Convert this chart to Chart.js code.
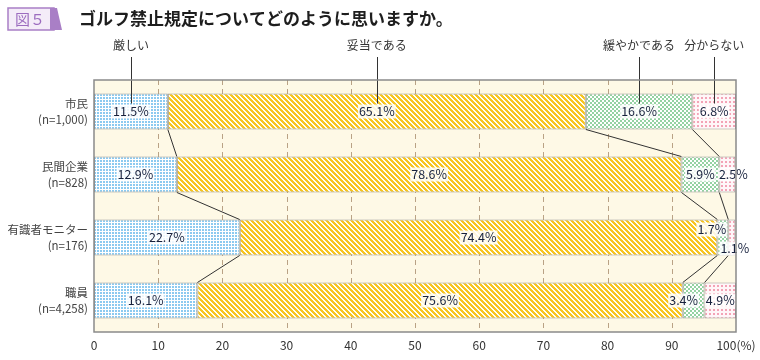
<!DOCTYPE html>
<html>
<head>
<meta charset="utf-8">
<script src="https://cdn.jsdelivr.net/npm/chart.js@4"></script>
<style>
  html, body { margin: 0; padding: 0; background: #fff; }
  #wrap { width: 760px; height: 360px; position: relative; }
</style>
</head>
<body>
<div id="wrap"><canvas id="golfChart"></canvas></div>
<script>
const categories = [
  ['市民', '(n=1,000)'],
  ['民間企業', '(n=828)'],
  ['有識者モニター', '(n=176)'],
  ['職員', '(n=4,258)']
];
const seriesNames = ['厳しい', '妥当である', '緩やかである', '分からない'];
const strict = [11.5, 12.9, 22.7, 16.1];
const adequate = [65.1, 78.6, 74.4, 75.6];
const lenient = [16.6, 5.9, 1.7, 3.4];
const unknown = [6.8, 2.5, 1.1, 4.9];
const xTicks = [0, 10, 20, 30, 40, 50, 60, 70, 80, 90, 100];

const FONT = '"Noto Sans CJK JP", "Noto Sans", sans-serif';

// label nudges where the segment is too narrow: "row-dataset": [dx, dy]
const labelShift = {
  '1-3': [6, 0],
  '2-2': [-11, -8],
  '2-3': [3, 11],
  '3-2': [-10, 0]
};

function makePattern(kind) {
  const c = document.createElement('canvas');
  const g = c.getContext('2d');
  if (kind === 'blue') {
    c.width = 3; c.height = 3;
    g.fillStyle = '#ffffff'; g.fillRect(0, 0, 3, 3);
    g.fillStyle = '#8ccaf0'; g.fillRect(1, 1, 2, 2);
  } else if (kind === 'yellow') {
    c.width = 5; c.height = 5;
    g.fillStyle = '#fffdf4'; g.fillRect(0, 0, 5, 5);
    g.fillStyle = '#f7c520';
    for (let i = 0; i < 5; i++) {
      g.fillRect(i, i, 1, 1);
      g.fillRect((i + 1) % 5, i, 1, 1);
      g.fillRect((i + 2) % 5, i, 1, 1);
    }
  } else if (kind === 'green') {
    c.width = 4; c.height = 4;
    g.fillStyle = '#ffffff'; g.fillRect(0, 0, 4, 4);
    g.fillStyle = '#94d2a2';
    g.fillRect(0, 0, 2, 2); g.fillRect(2, 2, 2, 2);
  } else {
    c.width = 4; c.height = 4;
    g.fillStyle = '#fff6f8'; g.fillRect(0, 0, 4, 4);
    g.fillStyle = '#f3a3b6';
    g.fillRect(1, 1, 2, 2);
  }
  return document.getElementById('golfChart').getContext('2d').createPattern(c, 'repeat');
}

const seriesData = [strict, adequate, lenient, unknown];
const fills = [makePattern('blue'), makePattern('yellow'), makePattern('green'), makePattern('pink')];

const chartDecor = {
  id: 'chartDecor',
  beforeDatasetsDraw(chart) {
    const { ctx, chartArea: a } = chart;
    ctx.save();
    ctx.fillStyle = '#fef9e6';
    ctx.fillRect(a.left, a.top, a.right - a.left, a.bottom - a.top);
    const x = chart.scales.x;
    ctx.strokeStyle = '#b9a285';
    ctx.lineWidth = 1;
    ctx.setLineDash([5, 4]);
    xTicks.forEach(v => {
      if (v === 0 || v === 100) return;
      const px = Math.round(x.getPixelForValue(v)) + 0.5;
      ctx.beginPath(); ctx.moveTo(px, a.top); ctx.lineTo(px, a.bottom); ctx.stroke();
    });
    ctx.restore();
  },
  afterDatasetsDraw(chart) {
    const { ctx, chartArea: a } = chart;
    const x = chart.scales.x;
    ctx.save();

    // connectors between rows
    ctx.strokeStyle = '#333';
    ctx.lineWidth = 1;
    for (let r = 0; r < categories.length - 1; r++) {
      const barA = chart.getDatasetMeta(0).data[r];
      const barB = chart.getDatasetMeta(0).data[r + 1];
      const yA = barA.y + barA.height / 2;
      const yB = barB.y - barB.height / 2;
      let cumA = 0, cumB = 0;
      for (let s = 0; s < seriesData.length - 1; s++) {
        cumA += seriesData[s][r];
        cumB += seriesData[s][r + 1];
        ctx.beginPath();
        ctx.moveTo(x.getPixelForValue(cumA), yA);
        ctx.lineTo(x.getPixelForValue(cumB), yB);
        ctx.stroke();
      }
    }

    // legend callouts above first row
    ctx.font = '12px ' + FONT;
    ctx.textAlign = 'center';
    ctx.textBaseline = 'middle';
    let cum = 0;
    const top = chart.getDatasetMeta(0).data[0];
    seriesNames.forEach((name, s) => {
      const mid = x.getPixelForValue(cum + seriesData[s][0] / 2);
      cum += seriesData[s][0];
      ctx.fillStyle = '#333';
      ctx.fillText(name, mid, 45);
      ctx.beginPath();
      ctx.moveTo(Math.round(mid) + 0.5, 57);
      ctx.lineTo(Math.round(mid) + 0.5, top.y - 8);
      ctx.stroke();
    });

    // value labels
    ctx.font = '12.5px ' + FONT;
    seriesData.forEach((arr, s) => {
      const meta = chart.getDatasetMeta(s);
      arr.forEach((v, r) => {
        const bar = meta.data[r];
        const sh = labelShift[r + '-' + s] || [0, 0];
        const cx = (bar.x + bar.base) / 2 + sh[0];
        const cy = bar.y + sh[1];
        const t = v.toFixed(1) + '%';
        const w = ctx.measureText(t).width;
        ctx.fillStyle = 'rgba(255,255,255,0.85)';
        ctx.fillRect(cx - w / 2 - 1, cy - 7, w + 2, 14);
        ctx.fillStyle = '#17213d';
        ctx.fillText(t, cx, cy);
      });
    });

    // plot frame
    ctx.strokeStyle = '#8a8a8a';
    ctx.lineWidth = 1.5;
    ctx.strokeRect(a.left, a.top, a.right - a.left, a.bottom - a.top);

    // title
    ctx.fillStyle = '#f4ecf8';
    ctx.fillRect(8, 8, 46, 22);
    ctx.strokeStyle = '#a97fc6';
    ctx.lineWidth = 1.5;
    ctx.strokeRect(8, 8, 46, 22);
    ctx.fillStyle = '#a97fc6';
    ctx.beginPath();
    ctx.moveTo(50, 8); ctx.lineTo(57, 8); ctx.lineTo(62, 30); ctx.lineTo(50, 30);
    ctx.closePath(); ctx.fill();
    ctx.fillStyle = '#9c6cbf';
    ctx.font = '15px ' + FONT;
    ctx.textAlign = 'center';
    ctx.fillText('図５', 30, 19);
    ctx.fillStyle = '#1e1e1e';
    ctx.font = 'bold 17px ' + FONT;
    ctx.textAlign = 'left';
    ctx.fillText('ゴルフ禁止規定についてどのように思いますか。', 79, 19);
    ctx.restore();
  }
};

new Chart(document.getElementById('golfChart'), {
  type: 'bar',
  data: {
    labels: categories,
    datasets: seriesData.map((arr, s) => ({
      label: seriesNames[s],
      data: arr,
      backgroundColor: fills[s],
      borderColor: '#9a9a9a',
      borderWidth: 1,
      borderSkipped: false,
      barPercentage: 0.57,
      categoryPercentage: 1
    }))
  },
  options: {
    indexAxis: 'y',
    responsive: true,
    maintainAspectRatio: false,
    animation: false,
    layout: { padding: { top: 80, right: 24, bottom: 0, left: 0 } },
    plugins: { legend: { display: false }, tooltip: { enabled: false } },
    scales: {
      x: {
        stacked: true,
        min: 0,
        max: 100,
        grid: { display: false, drawTicks: false },
        border: { display: false },
        afterFit(scale) { scale.height = 28; scale.paddingRight = 0; },
        afterBuildTicks(scale) { scale.ticks = xTicks.map(v => ({ value: v })); },
        ticks: {
          color: '#333',
          font: { family: FONT, size: 12 },
          padding: 6,
          maxRotation: 0,
          callback: v => (v === 100 ? '100(%)' : String(v))
        }
      },
      y: {
        stacked: true,
        grid: { display: false, drawTicks: false },
        border: { display: false },
        afterFit(scale) { scale.width = 94; },
        ticks: {
          color: '#444',
          font: { family: FONT, size: 11.5, lineHeight: 1.35 },
          padding: 6
        }
      }
    }
  },
  plugins: [chartDecor]
});
</script>
</body>
</html>
